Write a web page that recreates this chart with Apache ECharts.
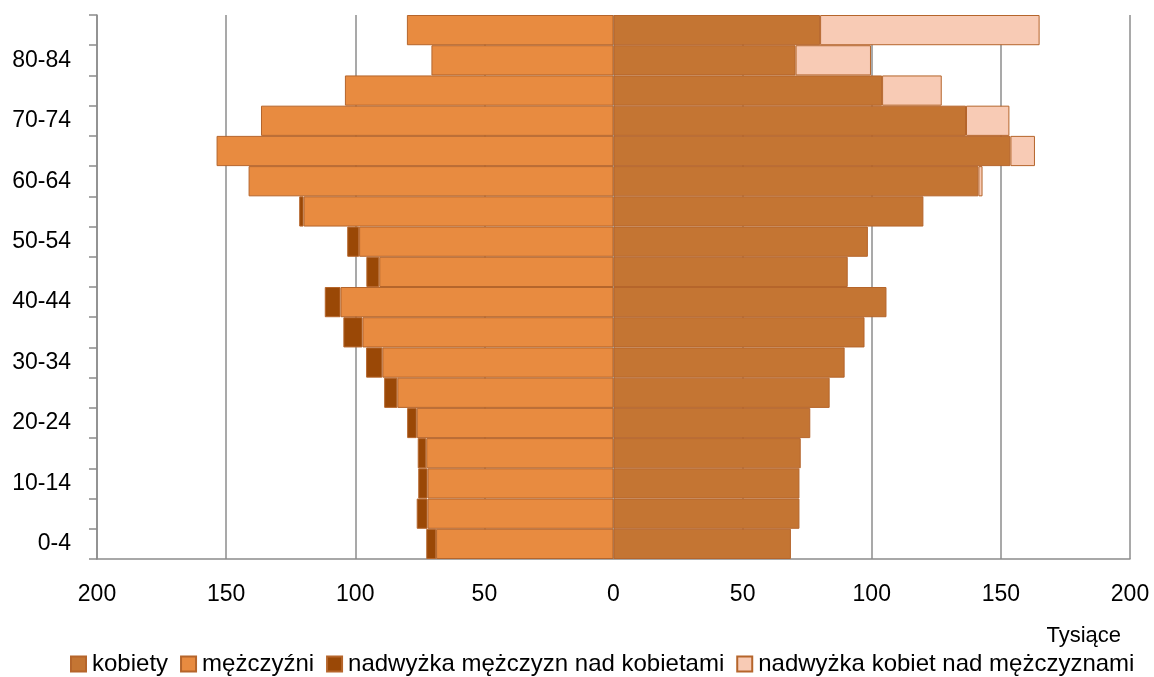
<!DOCTYPE html>
<html><head><meta charset="utf-8">
<script src="https://cdn.jsdelivr.net/npm/echarts@6/dist/echarts.min.js"></script>
<style>html,body{margin:0;padding:0;background:#fff}#c{width:1154px;height:677px}</style>
</head><body><div id="c"></div>
<script>
// Age groups, bottom to top
const categories = ['0-4','5-9','10-14','15-19','20-24','25-29','30-34','35-39','40-44','45-49','50-54','55-59','60-64','65-69','70-74','75-79','80-84','85+'];
// Population in thousands
const men   = [72.5, 76.2, 75.6, 75.8, 79.9, 88.8, 95.8, 104.6, 111.8, 95.7, 103.1, 121.7, 141.3, 153.7, 136.5, 104.0, 70.5, 80.0];
const women = [68.7, 72.0, 72.0, 72.5, 76.2, 83.7, 89.5, 97.2, 105.7, 90.7, 98.5, 120.0, 142.9, 163.2, 153.3, 127.1, 99.7, 165.0];
const xTicks = [-200,-150,-100,-50,0,50,100,150,200];

const common = men.map((m,i)=>Math.min(m, women[i]));
const menExcess = men.map((m,i)=>m > women[i] ? -(m - women[i]) : '-');
const womenExcess = women.map((w,i)=>w > men[i] ? w - men[i] : '-');

const FONT = "'Liberation Sans', Arial, sans-serif";
const FS = 23;
const chart = echarts.init(document.getElementById('c'));
const border = '#B5652B';
chart.setOption({
  animation:false,
  textStyle:{fontFamily:FONT},
  grid:{left:97,right:24,top:15,bottom:118,containLabel:false},
  xAxis:{
    type:'value', min:xTicks[0], max:xTicks[xTicks.length-1], interval:50,
    axisLine:{show:true,onZero:false,lineStyle:{color:'#8c8c8c',width:1.5}},
    axisTick:{show:false},
    splitLine:{show:true,lineStyle:{color:'#8c8c8c',width:1.5}},
    axisLabel:{formatter:v=>String(Math.abs(v)),color:'#000',fontSize:FS,margin:24,fontFamily:FONT}
  },
  yAxis:{
    type:'category', data:categories,
    axisLine:{show:true,onZero:false,lineStyle:{color:'#8c8c8c',width:1.5}},
    axisTick:{show:true,length:8,interval:0,lineStyle:{color:'#8c8c8c',width:1.5}},
    axisLabel:{interval:1,color:'#000',fontSize:FS,margin:26,fontFamily:FONT}
  },
  legend:{
    top:652,left:70,padding:0,itemWidth:15,itemHeight:15,itemGap:12,icon:'rect',
    textStyle:{fontSize:24,color:'#000',fontFamily:FONT,padding:[0,0,0,1]},
    data:['kobiety','mężczyźni','nadwyżka mężczyzn nad kobietami','nadwyżka kobiet nad mężczyznami']
  },
  graphic:[{type:'text',right:33,top:625,style:{text:'Tysiące',fontSize:22,fill:'#000',fontFamily:FONT}}],
  series:[
    {name:'kobiety',type:'bar',stack:'t',barCategoryGap:'0%',data:common,
     itemStyle:{color:'#C47533',borderColor:border,borderWidth:1}},
    {name:'mężczyźni',type:'bar',stack:'t',barCategoryGap:'0%',data:common.map(v=>-v),
     itemStyle:{color:'#E88B40',borderColor:border,borderWidth:1}},
    {name:'nadwyżka mężczyzn nad kobietami',type:'bar',stack:'t',barCategoryGap:'0%',data:menExcess,
     itemStyle:{color:'#9A4806',borderColor:border,borderWidth:1}},
    {name:'nadwyżka kobiet nad mężczyznami',type:'bar',stack:'t',barCategoryGap:'0%',data:womenExcess,
     itemStyle:{color:'#F8CBB5',borderColor:border,borderWidth:1}}
  ]
});
</script></body></html>
